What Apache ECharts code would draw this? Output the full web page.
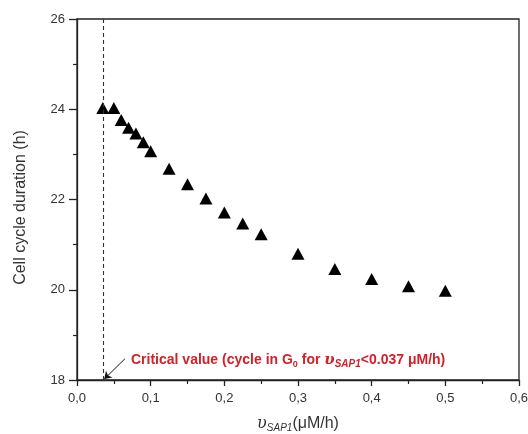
<!DOCTYPE html>
<html><head><meta charset="utf-8">
<script src="https://cdn.jsdelivr.net/npm/echarts@6/dist/echarts.min.js"></script>
<style>html,body{margin:0;padding:0;background:#fff}#c{width:528px;height:434px}</style>
</head><body><div id="c"></div>
<script>
var vSAP1 = [0.035,0.05,0.06,0.07,0.08,0.09,0.1,0.125,0.15,0.175,0.2,0.225,0.25,0.3,0.35,0.4,0.45,0.5];
var cycleDuration = [24.03,24.03,23.76,23.59,23.46,23.27,23.07,22.68,22.34,22.02,21.71,21.47,21.23,20.80,20.46,20.24,20.08,19.98];
var criticalValue = 0.036;
var xTicks = [0,0.1,0.2,0.3,0.4,0.5,0.6];
var yTicks = [18,20,22,24,26];

var FONT = 'Liberation Sans, Arial, sans-serif';
var RED = '#d42028';
var chart = echarts.init(document.getElementById('c'));
var pts = vSAP1.map(function(x,i){return [x, cycleDuration[i]];});
function fmt(v){return v.toFixed(1).replace('.', ',');}
chart.setOption({
  animation:false,
  grid:{left:77, top:19, right:9, bottom:54, show:true, borderColor:'#222', borderWidth:1.3, outerBoundsMode:'none', containLabel:false},
  xAxis:{type:'value', min:xTicks[0], max:xTicks[xTicks.length-1], interval:0.1,
    axisLine:{lineStyle:{color:'#222', width:1.3}},
    axisTick:{length:6, lineStyle:{color:'#222', width:1.3}},
    minorTick:{show:true, splitNumber:2, length:4, lineStyle:{color:'#222', width:1.2}},
    splitLine:{show:false},
    axisLabel:{formatter:fmt, color:'#333', fontFamily:FONT, fontSize:13, margin:12},
    name:'{u|υ}{s|SAP1}{n|(μM/h)}', nameLocation:'middle', nameGap:35,
    nameTextStyle:{rich:{
      u:{fontFamily:'DejaVu Serif, serif', fontStyle:'italic', fontSize:16, color:'#333'},
      s:{fontFamily:FONT, fontStyle:'italic', fontSize:10, color:'#333', verticalAlign:'bottom', padding:[8,0,0,0]},
      n:{fontFamily:FONT, fontSize:16, color:'#333'}
    }}
  },
  yAxis:{type:'value', min:yTicks[0], max:yTicks[yTicks.length-1], interval:2,
    axisLine:{show:true, lineStyle:{color:'#222', width:1.3}},
    axisTick:{show:true, length:8, lineStyle:{color:'#222', width:1.3}},
    minorTick:{show:true, splitNumber:2, length:4, lineStyle:{color:'#222', width:1.2}},
    splitLine:{show:false},
    axisLabel:{color:'#333', fontFamily:FONT, fontSize:13, margin:12},
    name:'Cell cycle duration (h)', nameLocation:'middle', nameGap:48,
    nameTextStyle:{fontFamily:FONT, fontSize:16, color:'#333', padding:[0,0,0,-16]}
  },
  series:[
    {type:'scatter', data:pts, symbol:'triangle', symbolSize:[13,12],
      itemStyle:{color:'#000', opacity:1},
      markLine:{silent:true, symbol:'none', label:{show:false},
        lineStyle:{color:'#333', type:[4,3], width:1.1},
        data:[[{coord:[criticalValue,18]},{coord:[criticalValue,26]}]]}
    },
    {type:'scatter', data:[], 
      markLine:{silent:true, symbol:['none','arrow'], symbolSize:7, label:{show:false},
        lineStyle:{color:'#111', type:'solid', width:1},
        data:[[{coord:[0.065,18.47]},{coord:[0.037,18.02]}]]}
    }
  ],
  graphic:[{type:'text', left:131, top:353,
    style:{text:'{a|Critical value (cycle in G}{b|0}{a| for }{u|υ}{s|SAP1}{a|<0.037 μM/h)}',
      fill:RED,
      rich:{
        a:{fontFamily:FONT, fontWeight:'bold', fontSize:14, fill:RED},
        b:{fontFamily:FONT, fontWeight:'bold', fontSize:9, fill:RED, verticalAlign:'bottom', padding:[6,0,0,0]},
        u:{fontFamily:'DejaVu Serif, serif', fontStyle:'italic', fontWeight:'bold', fontSize:15, fill:RED},
        s:{fontFamily:FONT, fontStyle:'italic', fontWeight:'bold', fontSize:10, fill:RED, verticalAlign:'bottom', padding:[7,0,0,0]}
      }}
  }]
});
</script></body></html>
